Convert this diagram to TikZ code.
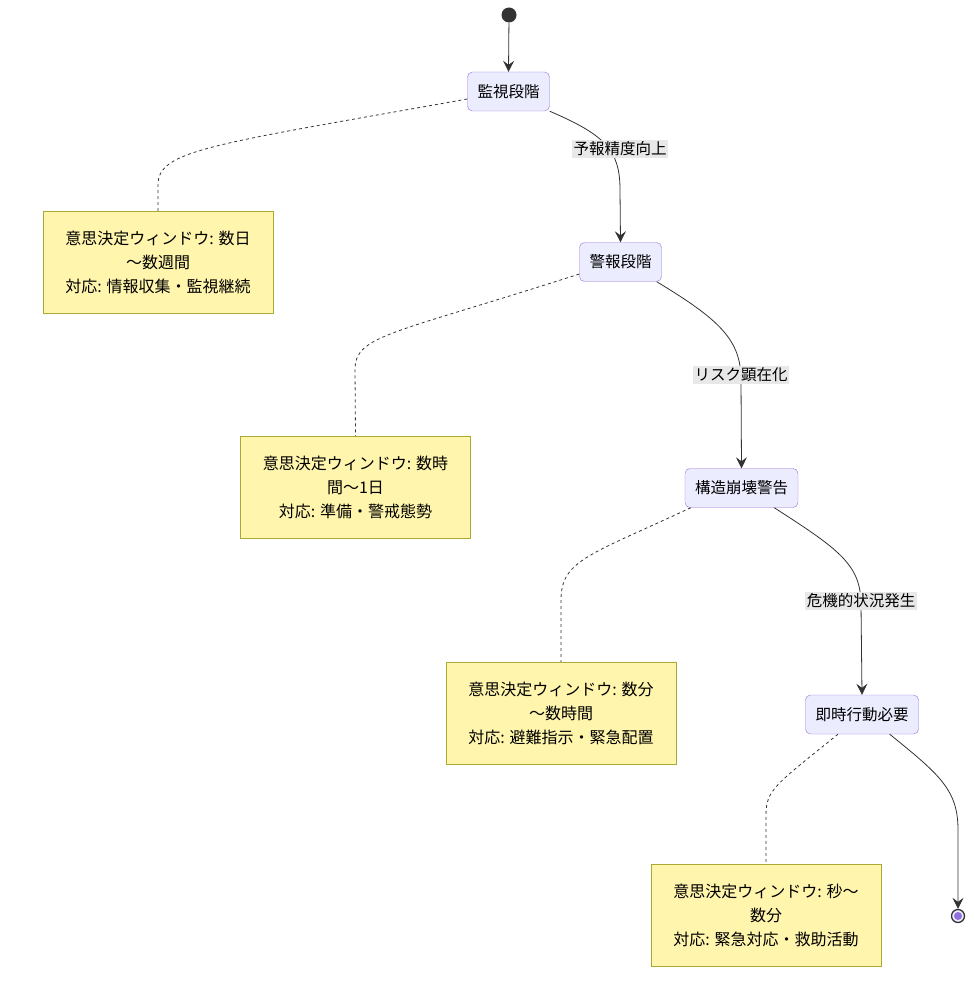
\documentclass[tikz,border=0pt]{standalone}
\usepackage{fontspec}
\setmainfont{Noto Sans CJK JP}
\usetikzlibrary{arrows.meta}
\definecolor{statefill}{HTML}{ECECFF}
\definecolor{stateline}{HTML}{9370DB}
\definecolor{notefill}{HTML}{FFF5AD}
\definecolor{noteline}{HTML}{AAAA33}
\definecolor{edgeline}{HTML}{333333}
\definecolor{labelfill}{HTML}{E8E8E8}

\begin{document}
\begin{tikzpicture}[x=1pt,y=-1pt,
    state/.style={draw=stateline,fill=statefill,rounded corners=5pt,
      minimum height=39pt,inner xsep=10pt,font=\fontsize{15.5}{18}\selectfont},
    note/.style={draw=noteline,fill=notefill,minimum width=230pt,
      minimum height=102pt,align=center,font=\fontsize{16}{24}\selectfont},
    edgelabel/.style={fill=labelfill,inner sep=1.5pt,font=\fontsize{15.5}{18}\selectfont},
    trans/.style={draw=edgeline,line width=0.8pt,-{Stealth[length=11pt,width=11pt,inset=4pt]}},
    notelink/.style={draw=edgeline,line width=0.8pt,dash pattern=on 3pt off 3pt}]

\def\STARTCOLOR{edgeline}
    \useasboundingbox (0,0) rectangle (974,1000);

    % states
    \node[circle,fill=\STARTCOLOR,minimum size=15pt,inner sep=0pt] (start) at (509,15) {};
    \node[state] (monitor) at (508.5,91.5) {監視段階};
    \node[state] (warning) at (620.5,262) {警報段階};
    \node[state] (collapse) at (741.5,488) {構造崩壊警告};
    \node[state] (action) at (862,714.5) {即時行動必要};
    \node[circle,draw=edgeline,line width=1.3pt,fill=statefill,minimum size=13pt,inner sep=0pt] (finish) at (958,916) {};
    \fill[stateline] (finish.center) circle (4pt);

    % notes
    \node[note] (n1) at (158,262) {意思決定ウィンドウ: 数日\\～数週間\\対応: 情報収集・監視継続};
    \node[note] (n2) at (355.5,487) {意思決定ウィンドウ: 数時\\間～1日\\対応: 準備・警戒態勢};
    \node[note] (n3) at (561,713) {意思決定ウィンドウ: 数分\\～数時間\\対応: 避難指示・緊急配置};
    \node[note] (n4) at (766,915.5) {意思決定ウィンドウ: 秒～\\数分\\対応: 緊急対応・救助活動};

    % note links
    \draw[notelink] ([yshift=-7.5pt]monitor.west) .. controls (210,145) and (158,150) .. (158,185) -- (n1.north);
    \draw[notelink] ([yshift=-12pt]warning.west) .. controls (390,335) and (355,335) .. (355,370) -- (n2.north);
    \draw[notelink] ([xshift=6pt]collapse.south west) .. controls (590,555) and (561,560) .. (561,600) -- (n3.north);
    \draw[notelink] ([xshift=-24pt]action.south) .. controls (775,785) and (766,790) .. (766,815) -- (n4.north);

    % transitions
    \draw[trans] (start) -- (monitor.north);
    \draw[trans] (monitor.south east) .. controls (605,135) and (620,150) .. (620,190) -- (warning.north);
    \draw[trans] ([xshift=-5pt]warning.south east) .. controls (720,320) and (741,340) .. (741,380) -- (collapse.north);
    \draw[trans] ([xshift=-24pt]collapse.south east) .. controls (840,550) and (861,565) .. (861,605) -- (action.north);
    \draw[trans] ([xshift=-29pt]action.south east) .. controls (940,775) and (958,790) .. (958,830) -- (finish.north);

    % transition labels
    \node[edgelabel] (l1) at (620,149) {予報精度向上};
    \node[edgelabel] (l2) at (741,375) {リスク顕在化};
    \node[edgelabel] (l3) at (861,601) {危機的状況発生};

          \end{tikzpicture}
\end{document}
